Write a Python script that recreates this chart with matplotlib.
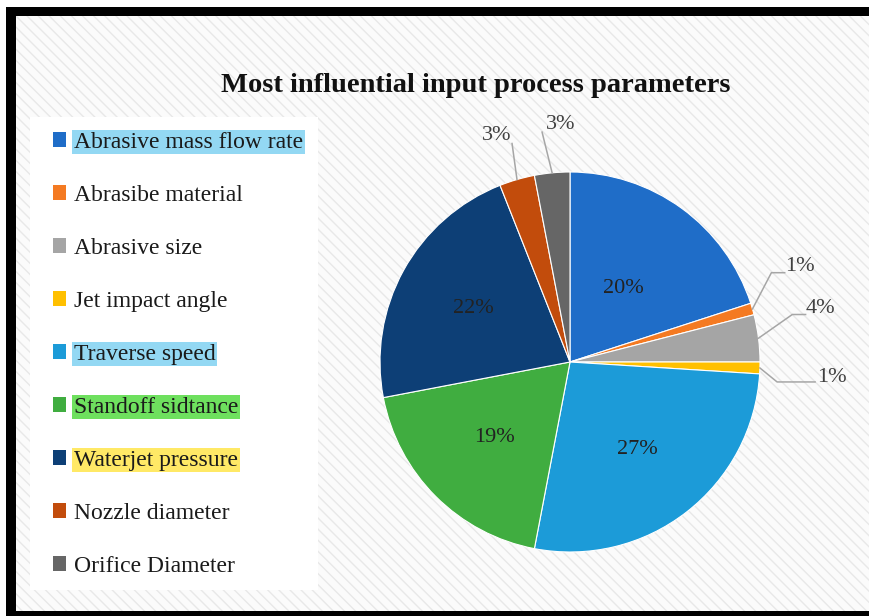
import numpy as np
import matplotlib.pyplot as plt
from matplotlib.patches import Rectangle, Patch

plt.rcParams['font.family'] = ['Liberation Serif', 'DejaVu Serif']
plt.rcParams['hatch.linewidth'] = 1.0
plt.rcParams['hatch.color'] = '#e8e8e8'

# data
names = ['Abrasive mass flow rate', 'Abrasibe material', 'Abrasive size',
         'Jet impact angle', 'Traverse speed', 'Standoff sidtance',
         'Waterjet pressure', 'Nozzle diameter', 'Orifice Diameter']
shares = [20, 1, 4, 1, 27, 19, 22, 3, 3]
colors = ['#1f6dc8', '#f47a22', '#a5a5a5', '#ffc000', '#1c9bd8',
          '#40ad40', '#0d3f76', '#c24c0c', '#666666']
marks = {0: '#93d8f3', 4: '#93d8f3', 5: '#6ee05e', 6: '#ffe966'}

W, H = 869, 616
fig = plt.figure(figsize=(W / 100, H / 100), dpi=100)

# frame + hatched background, in pixel units
bg = fig.add_axes([0, 0, 1, 1])
bg.set_xlim(0, W)
bg.set_ylim(H, 0)
bg.axis('off')
bg.add_patch(Rectangle((6, 7), W, H, facecolor='black', edgecolor='none'))
bg.add_patch(Rectangle((16, 16), W, 595, facecolor='#fbfbfb', edgecolor='#e8e8e8',
                       hatch='\\\\\\', lw=0))
bg.add_patch(Rectangle((30, 117), 288, 473, facecolor='white', edgecolor='none'))

fig.text(476 / W, 1 - 85 / H, 'Most influential input process parameters',
         ha='center', va='center', fontsize=20.5, fontweight='bold', color='#111111')

# pie
cx, cy, r = 570, 362, 190
ax = fig.add_axes([(cx - r) / W, (H - cy - r) / H, 2 * r / W, 2 * r / H])
wedges, _ = ax.pie(shares, colors=colors, startangle=90, counterclock=False,
                   radius=1, wedgeprops=dict(edgecolor='white', linewidth=0.8))
ax.set_xlim(-1, 1)
ax.set_ylim(-1, 1)
ax.set_aspect('equal')
ax.axis('off')

inside = {0: 0.48, 4: 0.58, 5: 0.56, 6: 0.58}
# small slices: elbow, line end, text anchor (axes units of the pie), alignment
outside = {
    1: ((1.06, 0.47), (1.13, 0.47), (1.13, 0.50), 'left'),
    2: ((1.17, 0.25), (1.24, 0.25), (1.24, 0.28), 'left'),
    3: ((1.09, -0.105), (1.29, -0.105), (1.30, -0.08), 'left'),
    7: ((-0.305, 1.15), (-0.305, 1.15), (-0.31, 1.19), 'right'),
    8: ((-0.147, 1.21), (-0.147, 1.21), (-0.05, 1.25), 'center'),
}
for i, w in enumerate(wedges):
    mid = np.deg2rad((w.theta1 + w.theta2) / 2)
    txt = f'{shares[i]}%'
    if i in inside:
        d = inside[i]
        ax.text(d * np.cos(mid), d * np.sin(mid), txt, ha='center', va='center',
                fontsize=16, color='#222222')
    else:
        elbow, end, pos, ha = outside[i]
        ex, ey = np.cos(mid), np.sin(mid)
        ax.plot([ex, elbow[0], end[0]], [ey, elbow[1], end[1]], color='#a6a6a6',
                lw=1.1, clip_on=False)
        ax.text(pos[0], pos[1], txt, ha=ha, va='center', fontsize=16,
                color='#404040', clip_on=False)

handles = [Patch(facecolor=c, edgecolor='none') for c in colors]
leg = fig.legend(handles, names, loc='upper left',
                 bbox_to_anchor=(41 / W, 1 - 120 / H), frameon=False,
                 fontsize=17, handlelength=0.55, handleheight=0.55,
                 handletextpad=0.35, labelspacing=1.355, borderpad=0)
for i, t in enumerate(leg.get_texts()):
    t.set_color('#1a1a1a')
    if i in marks:
        t.set_bbox(dict(facecolor=marks[i], edgecolor='none', pad=1.2))

fig.savefig('out.png', dpi=100)
